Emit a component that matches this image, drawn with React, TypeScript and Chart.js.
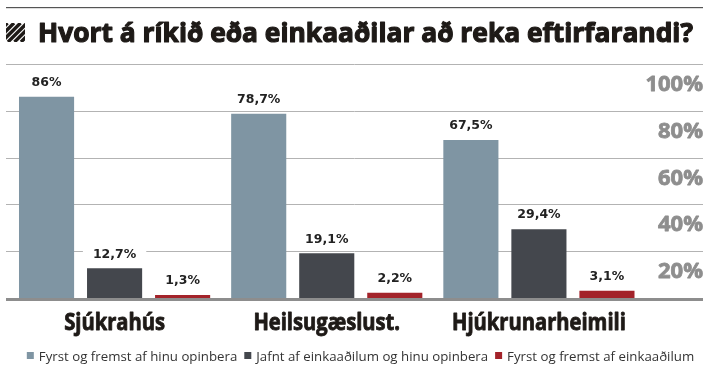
import React, { useEffect, useRef } from 'react';
import { Chart, registerables } from 'chart.js';

Chart.register(...registerables);

const titleText = 'Hvort á ríkið eða einkaaðilar að reka eftirfarandi?';
const categories = ['Sjúkrahús', 'Heilsugæslust.', 'Hjúkrunarheimili'];
const seriesNames = [
  'Fyrst og fremst af hinu opinbera',
  'Jafnt af einkaaðilum og hinu opinbera',
  'Fyrst og fremst af einkaaðilum',
];
const publicValues = [86, 78.7, 67.5];
const equalValues = [12.7, 19.1, 29.4];
const privateValues = [1.3, 2.2, 3.1];
const yTicks = [20, 40, 60, 80, 100];
const seriesColors = ['#7f95a3', '#44474d', '#a3232a'];

const fmt = (v: number) => String(v).replace('.', ',') + '%';

function drawText(
  ctx: CanvasRenderingContext2D,
  text: string,
  x: number,
  y: number,
  font: string,
  sx: number,
  align: 'left' | 'center' | 'right',
  color: string,
  stroke = 0
) {
  ctx.save();
  ctx.font = font;
  ctx.fillStyle = color;
  ctx.strokeStyle = color;
  ctx.textBaseline = 'alphabetic';
  ctx.textAlign = 'left';
  const w = ctx.measureText(text).width * sx;
  const left = align === 'left' ? x : align === 'right' ? x - w : x - w / 2;
  ctx.translate(left, y);
  ctx.scale(sx, 1);
  ctx.fillText(text, 0, 0);
  if (stroke > 0) {
    ctx.lineWidth = stroke;
    ctx.lineJoin = 'round';
    ctx.strokeText(text, 0, 0);
  }
  ctx.restore();
  return w;
}

const LEFT_EDGE = 6;
const RIGHT_EDGE = 703;

const decorPlugin = {
  id: 'decor',
  beforeDatasetsDraw(chart: any) {
    const ctx: CanvasRenderingContext2D = chart.ctx;
    const y = chart.scales.y;
    ctx.save();
    ctx.strokeStyle = '#b3b3b3';
    ctx.lineWidth = 1;
    yTicks.forEach((t) => {
      const py = Math.round(y.getPixelForValue(t)) + 0.5;
      ctx.beginPath();
      ctx.moveTo(LEFT_EDGE, py);
      ctx.lineTo(RIGHT_EDGE, py);
      ctx.stroke();
    });
    ctx.restore();
    yTicks.forEach((t) => {
      const py = y.getPixelForValue(t);
      drawText(ctx, t + '%', RIGHT_EDGE, py + 27, 'bold 22px "Open Sans"', 1.0, 'right', '#8e8e8e', 0.8);
    });
  },
  afterDatasetsDraw(chart: any) {
    const ctx: CanvasRenderingContext2D = chart.ctx;
    const y = chart.scales.y;
    const by = y.getPixelForValue(0);
    ctx.save();
    ctx.fillStyle = '#8d8d8d';
    ctx.fillRect(LEFT_EDGE, by, RIGHT_EDGE - LEFT_EDGE, 3);
    ctx.restore();
    chart.data.datasets.forEach((ds: any, di: number) => {
      const meta = chart.getDatasetMeta(di);
      meta.data.forEach((bar: any, i: number) => {
        const txt = fmt(ds.data[i]);
        const cy = bar.y - 14;
        ctx.save();
        ctx.font = 'bold 12.5px "DejaVu Sans"';
        const w = ctx.measureText(txt).width;
        ctx.fillStyle = '#ffffff';
        ctx.fillRect(bar.x - w / 2 - 10, cy - 8, w + 20, 16);
        ctx.fillStyle = '#222222';
        ctx.textAlign = 'center';
        ctx.textBaseline = 'middle';
        ctx.fillText(txt, bar.x, cy);
        ctx.restore();
      });
    });
  },
  afterDraw(chart: any) {
    const ctx: CanvasRenderingContext2D = chart.ctx;
    ctx.save();
    ctx.fillStyle = '#555555';
    ctx.fillRect(LEFT_EDGE, 7, RIGHT_EDGE - LEFT_EDGE, 1.2);
    ctx.restore();
    // hatched icon
    ctx.save();
    ctx.beginPath();
    ctx.rect(6, 23, 19, 19);
    ctx.clip();
    ctx.strokeStyle = '#1e1a17';
    ctx.lineWidth = 3.4;
    for (let k = -24; k < 30; k += 6.5) {
      ctx.beginPath();
      ctx.moveTo(6 + k, 42);
      ctx.lineTo(6 + k + 19, 23);
      ctx.stroke();
    }
    ctx.restore();
    // title
    ctx.save();
    ctx.font = 'bold 27px "Open Sans"';
    const tw = ctx.measureText(titleText).width;
    ctx.restore();
    drawText(ctx, titleText, 38, 42, 'bold 27px "Open Sans"', 655 / tw, 'left', '#1e1a17', 1.2);
    // category labels
    const x = chart.scales.x;
    categories.forEach((c, i) => {
      drawText(ctx, c, x.getPixelForValue(i), 330, 'bold 24px "Open Sans"', 0.84, 'center', '#1e1a17', 0.9);
    });
    // legend
    const font = '13px "Open Sans"';
    const sx = 1.02;
    ctx.save();
    ctx.font = font;
    const widths = seriesNames.map((n) => ctx.measureText(n).width * sx);
    ctx.restore();
    const box = 7;
    const gapBox = 5;
    const gapItem = 7;
    const total = widths.reduce((a, w) => a + box + gapBox + w, 0) + gapItem * (seriesNames.length - 1);
    let lx = 360.5 - total / 2;
    seriesNames.forEach((n, i) => {
      ctx.save();
      ctx.fillStyle = seriesColors[i];
      ctx.fillRect(lx, 352, box, box);
      ctx.restore();
      drawText(ctx, n, lx + box + gapBox, 361, font, sx, 'left', '#333333');
      lx += box + gapBox + widths[i] + gapItem;
    });
  },
};

export default function App() {
  const ref = useRef<HTMLCanvasElement | null>(null);
  useEffect(() => {
    if (!ref.current) return;
    const chart = new Chart(ref.current, {
      type: 'bar',
      data: {
        labels: categories,
        datasets: [
          { label: seriesNames[0], data: publicValues, backgroundColor: seriesColors[0] },
          { label: seriesNames[1], data: equalValues, backgroundColor: seriesColors[1] },
          { label: seriesNames[2], data: privateValues, backgroundColor: seriesColors[2] },
        ],
      },
      options: {
        responsive: false,
        animation: false,
        devicePixelRatio: 1,
        layout: { padding: { left: 8.5, right: 68, top: 64, bottom: 69 } },
        datasets: { bar: { categoryPercentage: 0.962, barPercentage: 0.81 } },
        scales: {
          x: { display: false },
          y: { display: false, min: 0, max: 100 },
        },
        plugins: { legend: { display: false }, tooltip: { enabled: false }, title: { display: false } },
      },
      plugins: [decorPlugin],
    });
    return () => chart.destroy();
  }, []);
  return (
    <div style={{ position: 'absolute', left: 0, top: 0, width: 713, height: 367, background: '#fff' }}>
      <canvas ref={ref} width={713} height={367} style={{ display: 'block' }} />
    </div>
  );
}
